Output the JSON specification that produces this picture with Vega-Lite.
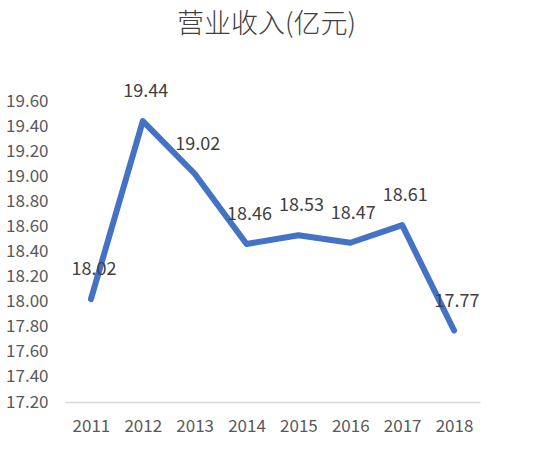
{
  "$schema": "https://vega.github.io/schema/vega-lite/v6.json",
  "width": 415,
  "height": 301,
  "autosize": {"type": "none"},
  "padding": {"left": 65, "top": 101, "right": 61, "bottom": 69},
  "background": "white",
  "title": {
    "text": "营业收入(亿元)",
    "font": "Noto Sans CJK SC",
    "fontSize": 27,
    "fontWeight": 300,
    "letterSpacing": 3,
    "color": "#404040",
    "anchor": "middle",
    "frame": "group",
    "offset": 44,
    "dx": -6
  },
  "config": {
    "view": {"stroke": null},
    "font": "Noto Sans CJK SC"
  },
  "data": {
    "values": [
      {"year": "2011", "revenue": 18.02},
      {"year": "2012", "revenue": 19.44},
      {"year": "2013", "revenue": 19.02},
      {"year": "2014", "revenue": 18.46},
      {"year": "2015", "revenue": 18.53},
      {"year": "2016", "revenue": 18.47},
      {"year": "2017", "revenue": 18.61},
      {"year": "2018", "revenue": 17.77}
    ]
  },
  "encoding": {
    "x": {
      "field": "year",
      "type": "ordinal",
      "scale": {"type": "point", "padding": 0.5},
      "axis": {
        "title": null,
        "labelAngle": 0,
        "labelFontSize": 17,
        "labelColor": "#595959",
        "labelPadding": 16,
        "ticks": false,
        "domainColor": "#d9d9d9",
        "domainWidth": 1.5,
        "grid": false
      }
    },
    "y": {
      "field": "revenue",
      "type": "quantitative",
      "scale": {"domain": [17.2, 19.6], "nice": false, "zero": false},
      "axis": {
        "title": null,
        "values": [17.2, 17.4, 17.6, 17.8, 18.0, 18.2, 18.4, 18.6, 18.8, 19.0, 19.2, 19.4, 19.6],
        "format": ".2f",
        "labelFontSize": 17,
        "labelColor": "#595959",
        "labelPadding": 17,
        "ticks": false,
        "domain": false,
        "grid": false
      }
    }
  },
  "layer": [
    {
      "mark": {"type": "line", "color": "#4472C4", "strokeWidth": 6, "strokeCap": "round", "strokeJoin": "round"}
    },
    {
      "mark": {"type": "text", "fontSize": 18, "color": "#404040", "dy": -29, "dx": 3, "baseline": "middle"},
      "encoding": {
        "text": {"field": "revenue", "type": "quantitative", "format": ".2f"}
      }
    }
  ]
}
